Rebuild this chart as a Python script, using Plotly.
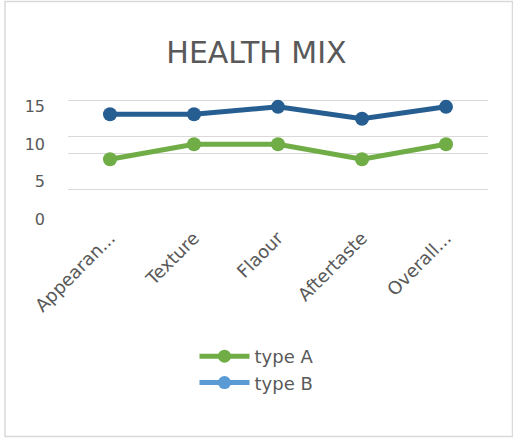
import plotly.graph_objects as go

categories = ["Appearan...", "Texture", "Flaour", "Aftertaste", "Overall..."]
type_a = [8, 10, 10, 8, 10]
type_b = [14, 14, 15, 13.4, 15]
y_tick_vals = [0, 5, 10, 15]
y_tick_text = ["0", "5", "10", "15"]
grid_vals = [4.0, 8.8, 11.1, 15.9]

GREEN = "#70AD47"
DARK_BLUE = "#265E91"
LIGHT_BLUE = "#5B9BD5"
GREY_TXT = "#595959"
FONT = "DejaVu Sans"

fig = go.Figure()
fig.add_trace(go.Scatter(x=categories, y=type_a, mode="lines+markers", showlegend=False,
                         line=dict(color=GREEN, width=5), marker=dict(color=GREEN, size=14)))
fig.add_trace(go.Scatter(x=categories, y=type_b, mode="lines+markers", showlegend=False,
                         line=dict(color=DARK_BLUE, width=5), marker=dict(color=DARK_BLUE, size=14)))
# legend entries
fig.add_trace(go.Scatter(x=[None], y=[None], mode="lines+markers", name="type A",
                         line=dict(color=GREEN, width=5), marker=dict(color=GREEN, size=13)))
fig.add_trace(go.Scatter(x=[None], y=[None], mode="lines+markers", name="type B",
                         line=dict(color=LIGHT_BLUE, width=5), marker=dict(color=LIGHT_BLUE, size=13)))

L, R, T, B = 68, 25, 96, 219
W, H = 513, 438
pw = W - L - R
ph = H - T - B
Y_MAX = 16.45

def px_x(x):
    return (x - L) / pw

def px_y(y):
    return (H - B - y) / ph

fig.update_layout(
    width=W, height=H,
    margin=dict(l=L, r=R, t=T, b=B),
    paper_bgcolor="white", plot_bgcolor="white",
    font=dict(family=FONT, color=GREY_TXT, size=15),
    title=dict(text="HEALTH MIX", x=0.5, xanchor="center", y=1 - 52 / H, yanchor="middle",
               font=dict(family=FONT, size=30, color=GREY_TXT)),
    xaxis=dict(type="category", range=[-0.5, 4.5], showgrid=False, zeroline=False,
               showline=False, tickangle=-45, tickfont=dict(size=18, color=GREY_TXT),
               ticks="", ticklabelstandoff=4),
    yaxis=dict(range=[0, Y_MAX], tickvals=y_tick_vals, ticktext=y_tick_text, showgrid=False,
               zeroline=False, showline=False, tickfont=dict(size=16, color=GREY_TXT),
               ticks="", ticklabelstandoff=22),
    yaxis2=dict(range=[0, Y_MAX], overlaying="y", tickvals=grid_vals, showticklabels=False,
                showgrid=True, gridcolor="#D9D9D9", gridwidth=1, zeroline=False, layer="below traces"),
    legend=dict(x=px_x(194.5), y=px_y(338), xanchor="left", yanchor="top",
                font=dict(size=18, color=GREY_TXT), bgcolor="rgba(0,0,0,0)",
                itemwidth=50, tracegroupgap=0),
    shapes=[dict(type="rect", xref="paper", yref="paper",
                 x0=px_x(5), x1=px_x(512.5), y0=px_y(436.5), y1=px_y(1.5),
                 line=dict(color="#D9D9D9", width=1.5), fillcolor="rgba(0,0,0,0)", layer="below")],
)
# attach an invisible trace to the grid axis so it renders
fig.add_trace(go.Scatter(x=[categories[0]], y=[None], yaxis="y2", showlegend=False, hoverinfo="skip"))

fig.write_html("out.html")
